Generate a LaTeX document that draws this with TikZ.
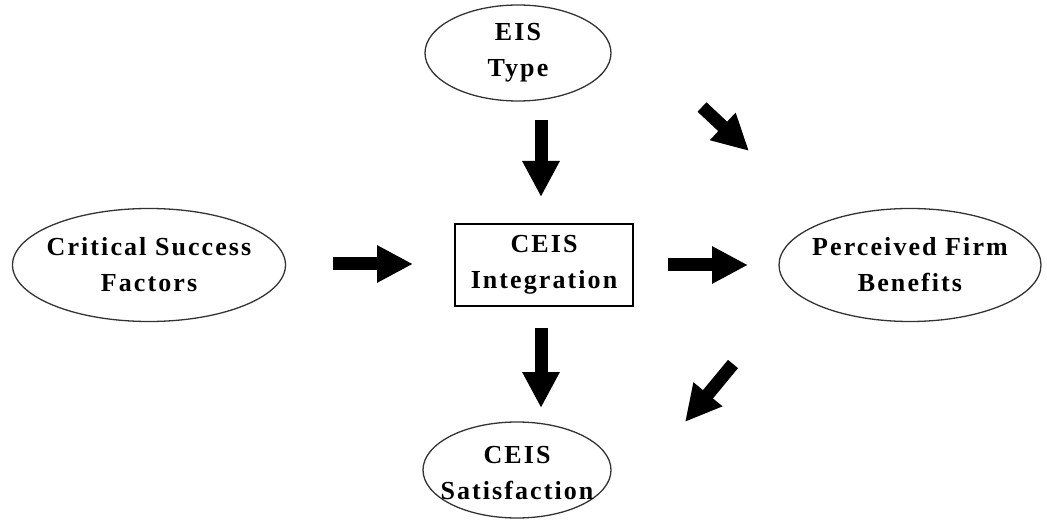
\documentclass[tikz,border=0pt]{standalone}
\usepackage{fontspec}
\setmainfont{Liberation Serif}
\newfontfamily\lblfont[LetterSpace=8]{Liberation Serif}
\usetikzlibrary{shapes.geometric,arrows.meta}
\begin{document}
\begin{tikzpicture}[x=1pt,y=-1pt,
  lbl/.style={font=\lblfont\bfseries\fontsize{26}{36}\selectfont, align=center, text=black, inner sep=0pt},
  oval/.style={draw=black!80, line width=1.3pt, ellipse, inner sep=0pt},
  boxnode/.style={draw=black, line width=1.2pt, rectangle, inner sep=0pt},
  bigarrow/.style={line width=13pt, -{Triangle[width=35pt,length=36pt]}, black}]
  \useasboundingbox (0,0) rectangle (1047,521);
  % factor nodes, each with its caption centred inside
  \node[oval, minimum width=186pt, minimum height=96pt,
        label={[lbl]center:EIS\\Type}] (eis) at (518,53) {};
  \node[oval, minimum width=273pt, minimum height=113pt,
        label={[lbl]center:Critical Success\\Factors}] (csf) at (149,265) {};
  \node[boxnode, minimum width=178pt, minimum height=82pt,
        label={[lbl]center:CEIS\\Integration}] (int) at (544,265) {};
  \node[oval, minimum width=262pt, minimum height=113pt,
        label={[lbl]center:Perceived Firm\\Benefits}] (pfb) at (910,265) {};
  \node[oval, minimum width=188pt, minimum height=96pt,
        label={[lbl, yshift=-3pt]center:CEIS\\Satisfaction}] (sat) at (517,470) {};
  % arrow end points between the nodes
  \coordinate (a1) at (333,264); \coordinate (a2) at (413,264);
  \coordinate (b1) at (668,265); \coordinate (b2) at (748,265);
  \coordinate (c1) at (541,120); \coordinate (c2) at (541,197);
  \coordinate (d1) at (541,328); \coordinate (d2) at (541,408);
  \coordinate (e1) at (702,107); \coordinate (e2) at (749,151);
  \coordinate (f1) at (733,364); \coordinate (f2) at (685,422);
  \draw[bigarrow] (a1) -- (a2);
  \draw[bigarrow] (b1) -- (b2);
  \draw[bigarrow] (c1) -- (c2);
  \draw[bigarrow] (d1) -- (d2);
  \draw[bigarrow] (e1) -- (e2);
  \draw[bigarrow] (f1) -- (f2);
\end{tikzpicture}
\end{document}
